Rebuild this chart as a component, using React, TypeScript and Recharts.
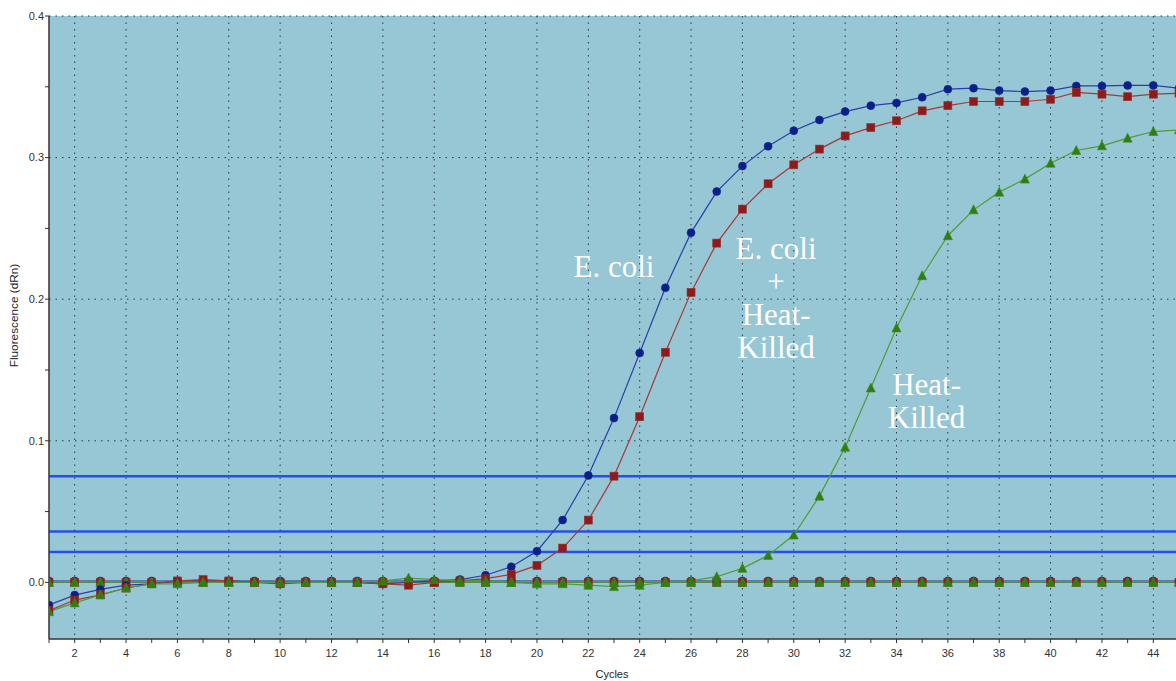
import React from 'react';
import {
  LineChart,
  Line,
  XAxis,
  YAxis,
  CartesianGrid,
  ReferenceLine,
  ReferenceDot,
} from 'recharts';

// ---- data ----
const cycles = [
  1, 2, 3, 4, 5, 6, 7, 8, 9, 10, 11, 12, 13, 14, 15, 16, 17, 18, 19, 20, 21, 22, 23,
  24, 25, 26, 27, 28, 29, 30, 31, 32, 33, 34, 35, 36, 37, 38, 39, 40, 41, 42, 43, 44, 45,
];

// E. coli (blue circles)
const ecoli = [
  -0.016, -0.009, -0.005, -0.002, -0.001, 0.001, 0.001, 0.001, 0.0, 0.0, 0.0, 0.0, 0.0,
  -0.001, 0.0, 0.001, 0.002, 0.005, 0.011, 0.022, 0.044, 0.0755, 0.116, 0.162, 0.208,
  0.247, 0.276, 0.294, 0.308, 0.319, 0.3266, 0.3325, 0.3367, 0.3386, 0.3426, 0.3483,
  0.349, 0.3473, 0.3466, 0.3473, 0.3506, 0.3506, 0.351, 0.351, 0.349,
];

// E. coli + Heat-Killed (red squares)
const mixed = [
  -0.02, -0.0125, -0.0088, -0.004, -0.001, 0.001, 0.002, 0.001, 0.0, -0.001, 0.0, 0.0,
  0.0, -0.001, -0.002, 0.0, 0.001, 0.0026, 0.0056, 0.012, 0.0242, 0.044, 0.075, 0.117,
  0.1625, 0.2048, 0.2396, 0.2636, 0.2815, 0.2949, 0.306, 0.3153, 0.3212, 0.326, 0.333,
  0.3367, 0.3396, 0.3396, 0.3396, 0.3412, 0.346, 0.3448, 0.343, 0.3448, 0.3455,
];

// Heat-Killed (green triangles)
const heatKilled = [
  -0.0207, -0.0145, -0.0088, -0.004, -0.001, -0.001, 0.0, 0.0, 0.0, 0.0, 0.0, 0.0, 0.0,
  0.001, 0.003, 0.002, 0.001, 0.001, 0.0, -0.001, -0.001, -0.002, -0.003, -0.002, 0.0,
  0.001, 0.004, 0.0099, 0.019, 0.0334, 0.0609, 0.0955, 0.1373, 0.1797, 0.2166, 0.2448,
  0.2631, 0.2756, 0.2848, 0.296, 0.305, 0.3083, 0.3137, 0.3184, 0.3196,
];

// no-template controls (flat)
const ntcBlue = [
  0.001, 0.001, 0.001, 0.001, 0.001, 0.001, 0.001, 0.001, 0.001, 0.001, 0.001, 0.001,
  0.001, 0.001, 0.001, 0.001, 0.001, 0.001, 0.001, 0.001, 0.001, 0.001, 0.001, 0.001,
  0.001, 0.001, 0.001, 0.001, 0.001, 0.001, 0.001, 0.001, 0.001, 0.001, 0.001, 0.001,
  0.001, 0.001, 0.001, 0.001, 0.001, 0.001, 0.001, 0.001, 0.001,
];
const ntcRed = [
  0, 0, 0, 0, 0, 0, 0, 0, 0, 0, 0, 0, 0, 0, 0, 0, 0, 0, 0, 0, 0, 0, 0, 0, 0, 0, 0, 0, 0,
  0, 0, 0, 0, 0, 0, 0, 0, 0, 0, 0, 0, 0, 0, 0, 0,
];
const ntcGreen = [
  0, 0, 0, 0, 0, 0, 0, 0, 0, 0, 0, 0, 0, 0, 0, 0, 0, 0, 0, 0, 0, 0, 0, 0, 0, 0, 0, 0, 0,
  0, 0, 0, 0, 0, 0, 0, 0, 0, 0, 0, 0, 0, 0, 0, 0,
];

const thresholds = [0.075, 0.036, 0.0215];

const xTicks = cycles;
const xGridValues = [
  2, 4, 6, 8, 10, 12, 14, 16, 18, 20, 22, 24, 26, 28, 30, 32, 34, 36, 38, 40, 42, 44,
];
const yTicks = [0, 0.05, 0.1, 0.15, 0.2, 0.25, 0.3, 0.35, 0.4];
const yGridValues = [0, 0.1, 0.2, 0.3, 0.4];

const labelEcoli = ['E. coli'];
const labelMixed = ['E. coli', '+', 'Heat-', 'Killed'];
const labelHeat = ['Heat-', 'Killed'];

const data = cycles.map((c, i) => ({
  cycle: c,
  ecoli: ecoli[i],
  mixed: mixed[i],
  heat: heatKilled[i],
  ntcB: ntcBlue[i],
  ntcR: ntcRed[i],
  ntcG: ntcGreen[i],
}));

// ---- styles ----
const BLUE_MARK = '#0b1f88';
const BLUE_LINE = '#2b3fa8';
const RED_MARK = '#8c1c1c';
const RED_LINE = '#a43a36';
const GREEN_MARK = '#2f7e10';
const GREEN_LINE = '#4f9c3a';
const BG = '#97c6d5';
const AXIS = '#333333';
const SANS = "'Liberation Sans', Arial, sans-serif";
const SERIF = "'Liberation Serif', 'Times New Roman', serif";

const circleDot = (props: any) => {
  const { cx, cy, index } = props;
  if (cx == null || cy == null) return <g key={`c${index}`} />;
  return <circle key={`c${index}`} cx={cx} cy={cy} r={4} fill={BLUE_MARK} stroke="#1a2c90" strokeWidth={0.6} />;
};

const squareDot = (props: any) => {
  const { cx, cy, index } = props;
  if (cx == null || cy == null) return <g key={`s${index}`} />;
  return (
    <rect
      key={`s${index}`}
      x={cx - 4}
      y={cy - 4}
      width={8}
      height={8}
      fill={RED_MARK}
      stroke="#9a3030"
      strokeWidth={0.6}
    />
  );
};

const triangleDot = (props: any) => {
  const { cx, cy, index } = props;
  if (cx == null || cy == null) return <g key={`t${index}`} />;
  return (
    <polygon
      key={`t${index}`}
      points={`${cx},${cy - 5} ${cx - 4.5},${cy + 4} ${cx + 4.5},${cy + 4}`}
      fill={GREEN_MARK}
      stroke="#3b8a1c"
      strokeWidth={0.6}
    />
  );
};

const multiLine = (lines: string[], lineHeight: number) => (props: any) => {
  const vb = props.viewBox || { x: 0, y: 0, width: 0, height: 0 };
  const x = vb.x + (vb.width || 0) / 2;
  const y = vb.y + (vb.height || 0) / 2;
  return (
    <text x={x} y={y} fill="#ffffff" fontFamily={SERIF} fontSize={31} textAnchor="middle">
      {lines.map((l, i) => (
        <tspan key={i} x={x} dy={i === 0 ? 0 : lineHeight}>
          {l}
        </tspan>
      ))}
    </text>
  );
};

const yAxisLabel = (props: any) => {
  const vb = props.viewBox || { x: 0, y: 0, width: 0, height: 0 };
  const x = vb.x + 14;
  const y = vb.y + vb.height / 2 - 12;
  return (
    <text
      x={x}
      y={y}
      transform={`rotate(-90, ${x}, ${y})`}
      textAnchor="middle"
      dominantBaseline="central"
      fontFamily={SANS}
      fontSize={11.8}
      fill="#222"
    >
      Fluorescence (dRn)
    </text>
  );
};

const xAxisLabel = (props: any) => {
  const vb = props.viewBox || { x: 0, y: 0, width: 0, height: 0 };
  const x = vb.x + vb.width / 2 - 2;
  const y = vb.y + 39;
  return (
    <text x={x} y={y} textAnchor="middle" fontFamily={SANS} fontSize={11} fill="#222">
      Cycles
    </text>
  );
};

export default function App() {
  return (
    <div
      style={{
        position: 'absolute',
        left: 0,
        top: 0,
        width: 1176,
        height: 681,
        overflow: 'hidden',
        background: '#ffffff',
      }}
    >
      <LineChart
        width={1180}
        height={681}
        data={data}
        margin={{ top: 16, right: 1, left: 0, bottom: 0 }}
      >
        <CartesianGrid
          fill={BG}
          stroke="#2b3a40"
          strokeDasharray="1.5 5"
          horizontalValues={yGridValues}
          verticalValues={xGridValues}
        />
        <XAxis
          dataKey="cycle"
          type="number"
          domain={[1, 45]}
          ticks={xTicks}
          interval={0}
          allowDataOverflow
          height={42}
          tickSize={4}
          tickMargin={6}
          tickFormatter={(v: number) => (v % 2 === 0 ? String(v) : '')}
          tick={{ fontSize: 11, fontFamily: SANS, fill: '#333' }}
          stroke={AXIS}
          axisLine={{ stroke: AXIS, strokeWidth: 1.5 }}
          tickLine={{ stroke: AXIS }}
          label={{ content: xAxisLabel }}
        />
        <YAxis
          type="number"
          domain={[-0.04, 0.4]}
          ticks={yTicks}
          interval={0}
          allowDataOverflow
          width={49}
          tickSize={4}
          tickMargin={1}
          tickFormatter={(v: number) =>
            Math.abs(v * 10 - Math.round(v * 10)) < 1e-6 ? v.toFixed(1) : ''
          }
          tick={{ fontSize: 11, fontFamily: SANS, fill: '#333' }}
          stroke={AXIS}
          axisLine={{ stroke: AXIS, strokeWidth: 1.5 }}
          tickLine={{ stroke: AXIS }}
          label={{ content: yAxisLabel }}
        />
        {thresholds.map((t) => (
          <ReferenceLine key={t} y={t} stroke="#2450e6" strokeWidth={2.5} />
        ))}
        <Line dataKey="ntcB" stroke={BLUE_LINE} strokeWidth={1} dot={circleDot} activeDot={false} isAnimationActive={false} />
        <Line dataKey="ntcR" stroke={RED_LINE} strokeWidth={1} dot={squareDot} activeDot={false} isAnimationActive={false} />
        <Line dataKey="ntcG" stroke={GREEN_LINE} strokeWidth={1} dot={triangleDot} activeDot={false} isAnimationActive={false} />
        <Line dataKey="ecoli" stroke={BLUE_LINE} strokeWidth={1.2} dot={circleDot} activeDot={false} isAnimationActive={false} />
        <Line dataKey="mixed" stroke={RED_LINE} strokeWidth={1.2} dot={squareDot} activeDot={false} isAnimationActive={false} />
        <Line dataKey="heat" stroke={GREEN_LINE} strokeWidth={1.2} dot={triangleDot} activeDot={false} isAnimationActive={false} />
        <ReferenceDot x={23} y={0.2157} r={0} fill="none" stroke="none" ifOverflow="visible" label={{ content: multiLine(labelEcoli, 33) }} />
        <ReferenceDot x={29.31} y={0.2284} r={0} fill="none" stroke="none" ifOverflow="visible" label={{ content: multiLine(labelMixed, 33) }} />
        <ReferenceDot x={35.17} y={0.1323} r={0} fill="none" stroke="none" ifOverflow="visible" label={{ content: multiLine(labelHeat, 33) }} />
      </LineChart>
    </div>
  );
}
